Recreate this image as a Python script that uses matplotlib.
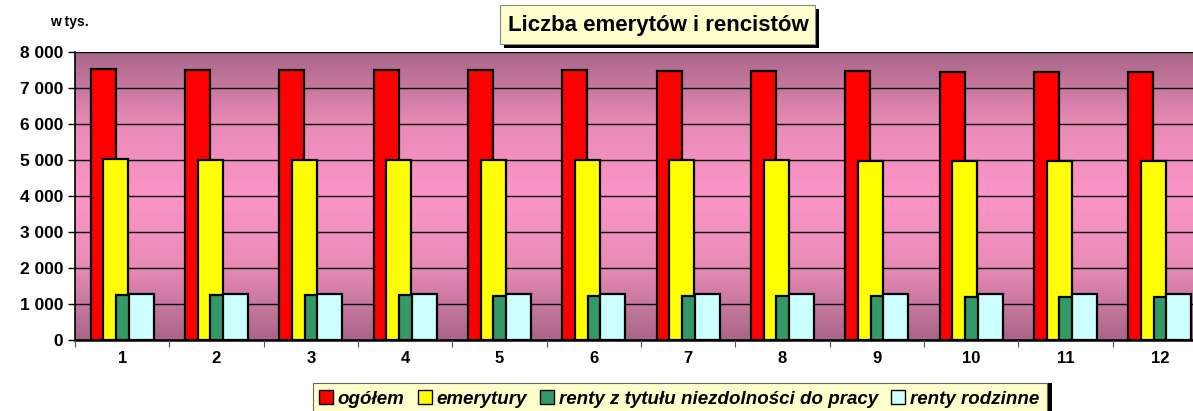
import matplotlib.pyplot as plt
import numpy as np
from matplotlib.patches import Rectangle
from matplotlib.colors import LinearSegmentedColormap

#------
#data (w tys.)
months = ['1', '2', '3', '4', '5', '6', '7', '8', '9', '10', '11', '12']
ogolem = [7530, 7510, 7510, 7505, 7500, 7490, 7480, 7480, 7460, 7450, 7450, 7450]
emerytury = [5020, 5010, 5010, 5005, 5000, 5000, 5000, 4995, 4985, 4980, 4975, 4970]
renty_niezdolnosc = [1260, 1250, 1245, 1240, 1235, 1230, 1225, 1220, 1210, 1205, 1200, 1195]
renty_rodzinne = [1280, 1275, 1270, 1275, 1275, 1275, 1280, 1280, 1275, 1270, 1280, 1290]

series = [ogolem, emerytury, renty_niezdolnosc, renty_rodzinne]
labels = ['ogółem', 'emerytury', 'renty z tytułu niezdolności do pracy', 'renty rodzinne']
colors = ['#FF0000', '#FFFF00', '#339966', '#CCFFFF']

plt.rcParams['font.family'] = ['Liberation Sans', 'DejaVu Sans']

W, H = 1193, 411
fig = plt.figure(figsize=(W / 100, H / 100), dpi=100)

#plot area runs past the right edge of the picture
ax = fig.add_axes([75 / W, 71 / H, 1132 / W, 288 / H])

#gradient background
grad = LinearSegmentedColormap.from_list('bg', ['#A86688', '#E88AB6', '#FC96C8', '#E88AB6', '#A86688'])
ax.imshow(np.linspace(0, 1, 256).reshape(-1, 1), cmap=grad, aspect='auto',
          extent=[0, 12, 0, 8000], zorder=0)

x = np.arange(len(months)) + 0.5
width = 0.265
step = 0.134
for i, (vals, col) in enumerate(zip(series, colors)):
    ax.bar(x + (i - 1.5) * step, vals, width=width, color=col, edgecolor='black',
           linewidth=1.6, zorder=3 + i, label=labels[i])

ax.set_xlim(0, 12)
ax.set_ylim(0, 8000)
ax.set_yticks(range(0, 8001, 1000))
ax.set_yticklabels(['0' if v == 0 else f'{v // 1000} 000' for v in range(0, 8001, 1000)],
                   fontsize=12.5, fontweight='bold')
ax.set_xticks(np.arange(0, 13))
ax.set_xticklabels([])
ax.set_xticks(x, minor=True)
ax.set_xticklabels(months, minor=True, fontsize=12, fontweight='bold')
ax.tick_params(axis='x', which='minor', length=0, pad=8)
ax.tick_params(axis='x', which='major', length=5, direction='out', color='#555555')
ax.tick_params(axis='y', length=5, direction='out', width=1)
ax.grid(axis='y', color='black', linewidth=1, zorder=1)
ax.set_axisbelow(False)
for gl in ax.get_ygridlines():
    gl.set_zorder(1)
for s in ['top', 'right']:
    ax.spines[s].set_color('#777777')
ax.spines['left'].set_linewidth(1.2)
ax.spines['bottom'].set_linewidth(1.8)

fig.text(50 / W, 1 - 22 / H, 'w tys.', fontsize=10, fontweight='bold', va='center')

#title box with shadow
fig.patches.append(Rectangle((504 / W, 1 - 48 / H), 315 / W, 39 / H, transform=fig.transFigure,
                             facecolor='black', edgecolor='none', zorder=1))
fig.patches.append(Rectangle((500 / W, 1 - 44 / H), 315 / W, 39 / H, transform=fig.transFigure,
                             facecolor='#FFFFCC', edgecolor='#888888', linewidth=0.8, zorder=2))
fig.text(658 / W, 1 - 25 / H, 'Liczba emerytów i rencistów', fontsize=16, fontweight='bold',
         ha='center', va='center', zorder=3)

#legend box with shadow
fig.patches.append(Rectangle((318 / W, -10 / H), 734 / W, 38 / H, transform=fig.transFigure,
                             facecolor='black', edgecolor='none', zorder=1))
fig.patches.append(Rectangle((313 / W, -10 / H), 734 / W, 38 / H, transform=fig.transFigure,
                             facecolor='#FFFFCC', edgecolor='#666666', linewidth=0.8, zorder=2))
handles, lbls = ax.get_legend_handles_labels()
leg = fig.legend(handles, lbls, loc='center', bbox_to_anchor=(679 / W, 1 - 399 / H), ncol=4,
                 frameon=False, handlelength=0.75, handleheight=0.75, handletextpad=0.25,
                 columnspacing=0.7, prop={'size': 13.5, 'weight': 'bold', 'style': 'italic'})
for h in leg.legend_handles:
    h.set_linewidth(1.0)

fig.savefig('out.png', dpi=100)
